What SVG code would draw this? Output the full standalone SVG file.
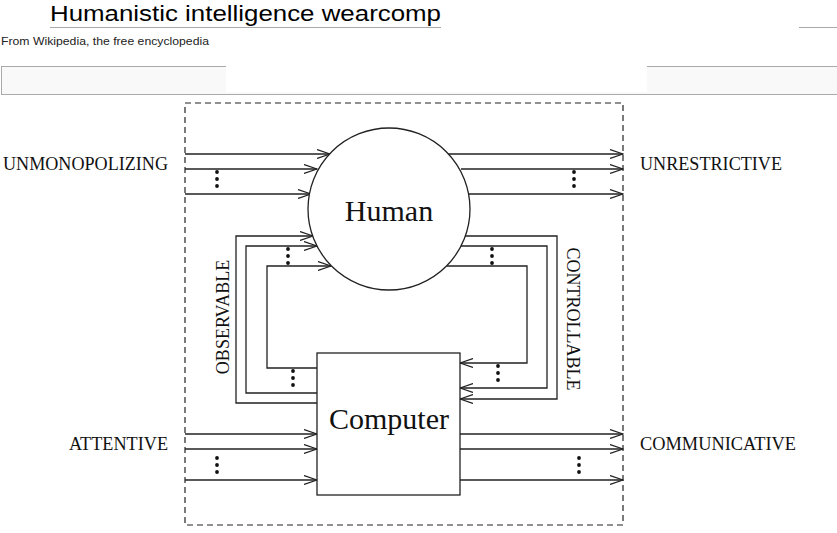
<svg xmlns="http://www.w3.org/2000/svg" width="837" height="533" viewBox="0 0 837 533">
<style>
.ln{stroke:#222;stroke-width:1.3;fill:none}
.ar{stroke:#222;stroke-width:1.3;fill:none;marker-end:url(#v)}
.lbl{font-family:"Liberation Serif","Times New Roman",serif;font-size:18px;fill:#111}
.big{font-family:"Liberation Serif","Times New Roman",serif;font-size:30px;fill:#111;text-anchor:middle}
.dot{fill:#111}
</style>
<defs>
<marker id="v" viewBox="0 0 14 10" refX="13" refY="5" markerWidth="14" markerHeight="10" markerUnits="userSpaceOnUse" orient="auto">
<path d="M0,0.5 L13,5 L0,9.5" fill="none" stroke="#222" stroke-width="1.2"/>
</marker>
<g id="dots"><circle cx="0" cy="0" r="1.9"/><circle cx="0" cy="7" r="1.9"/><circle cx="0" cy="14" r="1.9"/></g>
</defs>
<rect width="837" height="533" fill="#fff"/>
<g id="header">
<text x="50" y="21" font-family="'Liberation Sans',Arial,sans-serif" font-size="22" fill="#000" textLength="391" lengthAdjust="spacingAndGlyphs">Humanistic intelligence wearcomp</text>
<line x1="50" y1="27.5" x2="441" y2="27.5" stroke="#aaa" stroke-width="1"/>
<line x1="799" y1="27.5" x2="837" y2="27.5" stroke="#aaa" stroke-width="1"/>
<text x="1" y="45" font-family="'Liberation Sans',Arial,sans-serif" font-size="11" fill="#222" textLength="208" lengthAdjust="spacingAndGlyphs">From Wikipedia, the free encyclopedia</text>
<rect x="1.5" y="66.5" width="840" height="28" fill="#f9f9f9" stroke="#aaa" stroke-width="1"/>
<rect x="226" y="63" width="421" height="29" fill="#fff"/>
</g>
<g id="boundary">
<rect x="185" y="103" width="438" height="422" fill="none" stroke="#222" stroke-width="1.2" stroke-dasharray="6,4"/>
</g>
<g id="connectors">
<!-- human inputs -->
<path class="ar" d="M185,154 H330"/>
<path class="ar" d="M185,169 H317"/>
<path class="ar" d="M185,194 H311"/>
<!-- human outputs -->
<path class="ar" d="M448,154 H623"/>
<path class="ar" d="M461,169 H623"/>
<path class="ar" d="M468,194 H623"/>
<!-- computer inputs -->
<path class="ar" d="M185,434 H317"/>
<path class="ar" d="M185,449 H317"/>
<path class="ar" d="M185,480 H317"/>
<!-- computer outputs -->
<path class="ar" d="M460,434 H623"/>
<path class="ar" d="M460,449 H623"/>
<path class="ar" d="M460,480 H623"/>
<!-- observable loops -->
<path class="ar" d="M317,403 H236 V236 H313"/>
<path class="ar" d="M317,393 H246 V246 H317"/>
<path class="ar" d="M317,368 H267 V266 H331"/>
<!-- controllable loops -->
<path class="ar" d="M465,236 H557 V399 H460"/>
<path class="ar" d="M461,246 H547 V388 H460"/>
<path class="ar" d="M447,266 H527 V363 H460"/>
</g>
<g id="ellipses" class="dot">
<use href="#dots" x="217" y="172"/>
<use href="#dots" x="574" y="172"/>
<use href="#dots" x="217" y="458"/>
<use href="#dots" x="579" y="458"/>
<use href="#dots" x="288" y="249"/>
<use href="#dots" x="293" y="371"/>
<use href="#dots" x="492" y="249"/>
<use href="#dots" x="498" y="366"/>
</g>
<g id="human">
<circle cx="389" cy="209" r="81" fill="#fff" stroke="#222" stroke-width="1.3"/>
<text class="big" x="389" y="221">Human</text>
</g>
<g id="computer">
<rect x="317" y="353" width="143" height="142" fill="#fff" stroke="#222" stroke-width="1.3"/>
<text class="big" x="389" y="429">Computer</text>
</g>
<g id="labels">
<text class="lbl" x="3" y="170" textLength="165" lengthAdjust="spacingAndGlyphs">UNMONOPOLIZING</text>
<text class="lbl" x="640" y="170" textLength="142" lengthAdjust="spacingAndGlyphs">UNRESTRICTIVE</text>
<text class="lbl" x="69" y="450" textLength="99" lengthAdjust="spacingAndGlyphs">ATTENTIVE</text>
<text class="lbl" x="640" y="450" textLength="156" lengthAdjust="spacingAndGlyphs">COMMUNICATIVE</text>
<text class="lbl" transform="translate(229,317) rotate(-90)" text-anchor="middle">OBSERVABLE</text>
<text class="lbl" transform="translate(567,319) rotate(90)" text-anchor="middle">CONTROLLABLE</text>
</g>
</svg>
